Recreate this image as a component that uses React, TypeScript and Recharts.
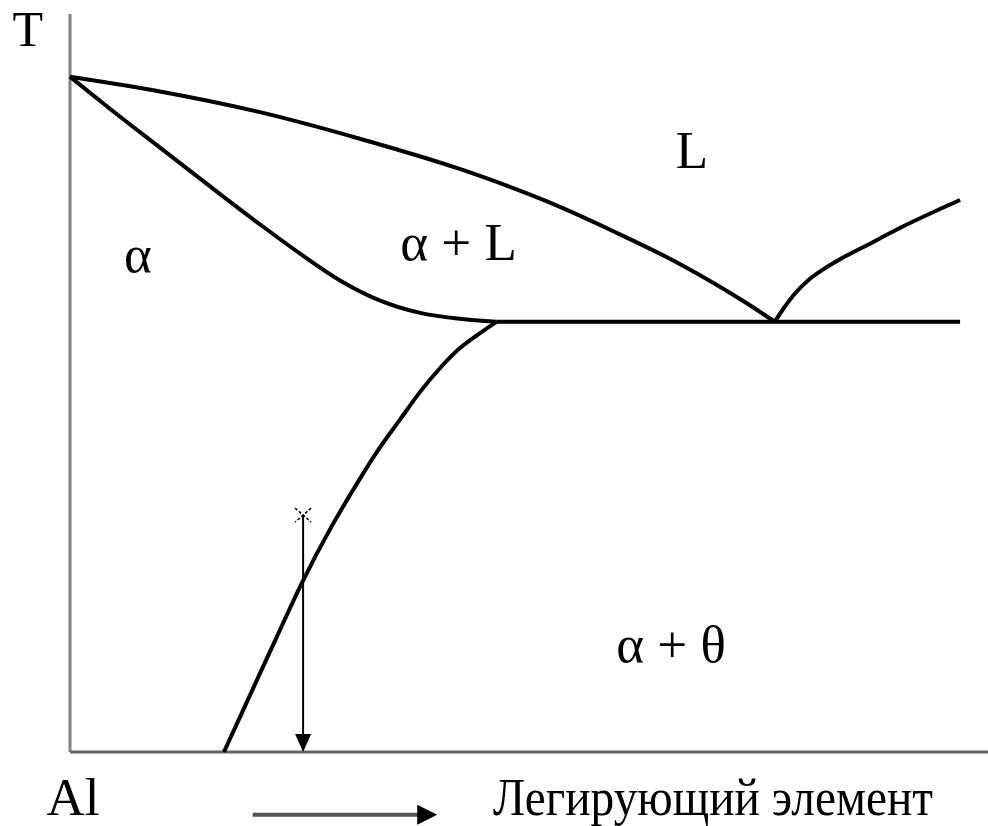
// @ts-nocheck
import React from "react";
import {
  ComposedChart,
  Line,
  XAxis,
  YAxis,
  ReferenceLine,
  ReferenceDot,
} from "recharts";

// composition (x) vs temperature (y), arbitrary units
const liquidusLeft = [
  { x: 0, y: 91.5 },
  { x: 10, y: 89.5 },
  { x: 21.1, y: 86.7 },
  { x: 32.2, y: 83.1 },
  { x: 43.3, y: 79.0 },
  { x: 53.0, y: 74.6 },
  { x: 60.3, y: 70.6 },
  { x: 67.8, y: 66.1 },
  { x: 75.2, y: 60.8 },
  { x: 78.3, y: 58.3 },
];

const solidus = [
  { x: 0, y: 91.5 },
  { x: 4.4, y: 87.2 },
  { x: 10, y: 81.9 },
  { x: 15.6, y: 76.6 },
  { x: 21.1, y: 71.5 },
  { x: 25.6, y: 67.5 },
  { x: 30.0, y: 63.9 },
  { x: 34.4, y: 61.2 },
  { x: 38.9, y: 59.5 },
  { x: 43.3, y: 58.7 },
  { x: 47.4, y: 58.3 },
];

const solvus = [
  { x: 17.1, y: 0 },
  { x: 20.0, y: 7.7 },
  { x: 22.9, y: 15.4 },
  { x: 25.8, y: 23.0 },
  { x: 28.9, y: 30.2 },
  { x: 32.0, y: 36.6 },
  { x: 34.4, y: 41.2 },
  { x: 36.7, y: 45.1 },
  { x: 38.9, y: 48.8 },
  { x: 41.1, y: 52.0 },
  { x: 43.3, y: 54.7 },
  { x: 45.6, y: 56.8 },
  { x: 47.4, y: 58.3 },
];

const liquidusRight = [
  { x: 78.3, y: 58.3 },
  { x: 79.4, y: 60.3 },
  { x: 80.6, y: 62.2 },
  { x: 82.0, y: 63.9 },
  { x: 83.7, y: 65.4 },
  { x: 85.6, y: 66.8 },
  { x: 88.6, y: 68.7 },
  { x: 92.2, y: 71.0 },
  { x: 98.9, y: 74.8 },
];

const eutectic = [
  { x: 47.4, y: 58.3 },
  { x: 98.9, y: 58.3 },
];

const alloy = { x: 25.9, top: 32.1, bottom: 0 };
const compArrow = { x1: 20.3, x2: 40.8, y: -8.5 };

const labels = [
  { text: "T", x: -6.4, y: 95.6, size: 50 },
  { text: "L", x: 67.3, y: 79.1 },
  { text: "α", x: 6.0, y: 65.0 },
  { text: "α + L", x: 36.7, y: 66.6 },
  { text: "α + θ", x: 60.7, y: 12.2 },
  { text: "Al", x: -2.6, y: -8.5 },
  { text: "Легирующий элемент", x: 47.0, y: -8.5, len: 440 },
];

const font = "'Liberation Serif', 'Times New Roman', serif";

const curves = [liquidusLeft, solidus, solvus, liquidusRight];

const App = () => {
  return (
    <div style={{ position: "absolute", left: 0, top: 0, background: "#fff" }}>
      <ComposedChart
        width={988}
        height={826}
        margin={{ top: 14, right: 0, bottom: 74, left: 70 }}
      >
        <XAxis type="number" dataKey="x" domain={[0, 102]} hide />
        <YAxis type="number" dataKey="y" domain={[0, 100]} hide />
        <ReferenceLine x={0} stroke="#808080" strokeWidth={3} ifOverflow="visible" />
        <ReferenceLine y={0} stroke="#666" strokeWidth={3} ifOverflow="visible" />
        {curves.map((d, i) => (
          <Line
            key={i}
            data={d}
            dataKey="y"
            type="monotone"
            stroke="#000"
            strokeWidth={4}
            dot={false}
            activeDot={false}
            isAnimationActive={false}
          />
        ))}
        <Line
          data={eutectic}
          dataKey="y"
          type="linear"
          stroke="#000"
          strokeWidth={4}
          dot={false}
          activeDot={false}
          isAnimationActive={false}
        />
        <ReferenceLine
          segment={[
            { x: alloy.x, y: alloy.top },
            { x: alloy.x, y: alloy.bottom },
          ]}
          ifOverflow="visible"
          shape={(p) => (
            <g>
              <line x1={p.x1} y1={p.y1} x2={p.x2} y2={p.y2 - 16} stroke="#000" strokeWidth={2} />
              <polygon
                points={`${p.x2 - 8},${p.y2 - 18} ${p.x2 + 8},${p.y2 - 18} ${p.x2},${p.y2}`}
                fill="#000"
              />
            </g>
          )}
        />
        <ReferenceDot
          x={alloy.x}
          y={alloy.top}
          ifOverflow="visible"
          shape={(p) => (
            <g stroke="#000" strokeWidth={1.5} strokeDasharray="3 2">
              <line x1={p.cx - 8} y1={p.cy - 7} x2={p.cx + 8} y2={p.cy + 7} />
              <line x1={p.cx + 8} y1={p.cy - 7} x2={p.cx - 8} y2={p.cy + 7} />
            </g>
          )}
        />
        <ReferenceLine
          segment={[
            { x: compArrow.x1, y: compArrow.y },
            { x: compArrow.x2, y: compArrow.y },
          ]}
          ifOverflow="visible"
          shape={(p) => (
            <g>
              <line x1={p.x1} y1={p.y1} x2={p.x2 - 18} y2={p.y2} stroke="#555" strokeWidth={4} />
              <polygon
                points={`${p.x2 - 20},${p.y2 - 10} ${p.x2 - 20},${p.y2 + 10} ${p.x2},${p.y2}`}
                fill="#000"
              />
            </g>
          )}
        />
        {labels.map((l) => (
          <ReferenceDot
            key={l.text}
            x={l.x}
            y={l.y}
            ifOverflow="visible"
            shape={(p) => (
              <text
                x={p.cx}
                y={p.cy}
                fontFamily={font}
                fontSize={l.size || 53}
                fill="#000"
                textLength={l.len}
                lengthAdjust={l.len ? "spacingAndGlyphs" : undefined}
              >
                {l.text}
              </text>
            )}
          />
        ))}
      </ComposedChart>
    </div>
  );
};

export default App;
